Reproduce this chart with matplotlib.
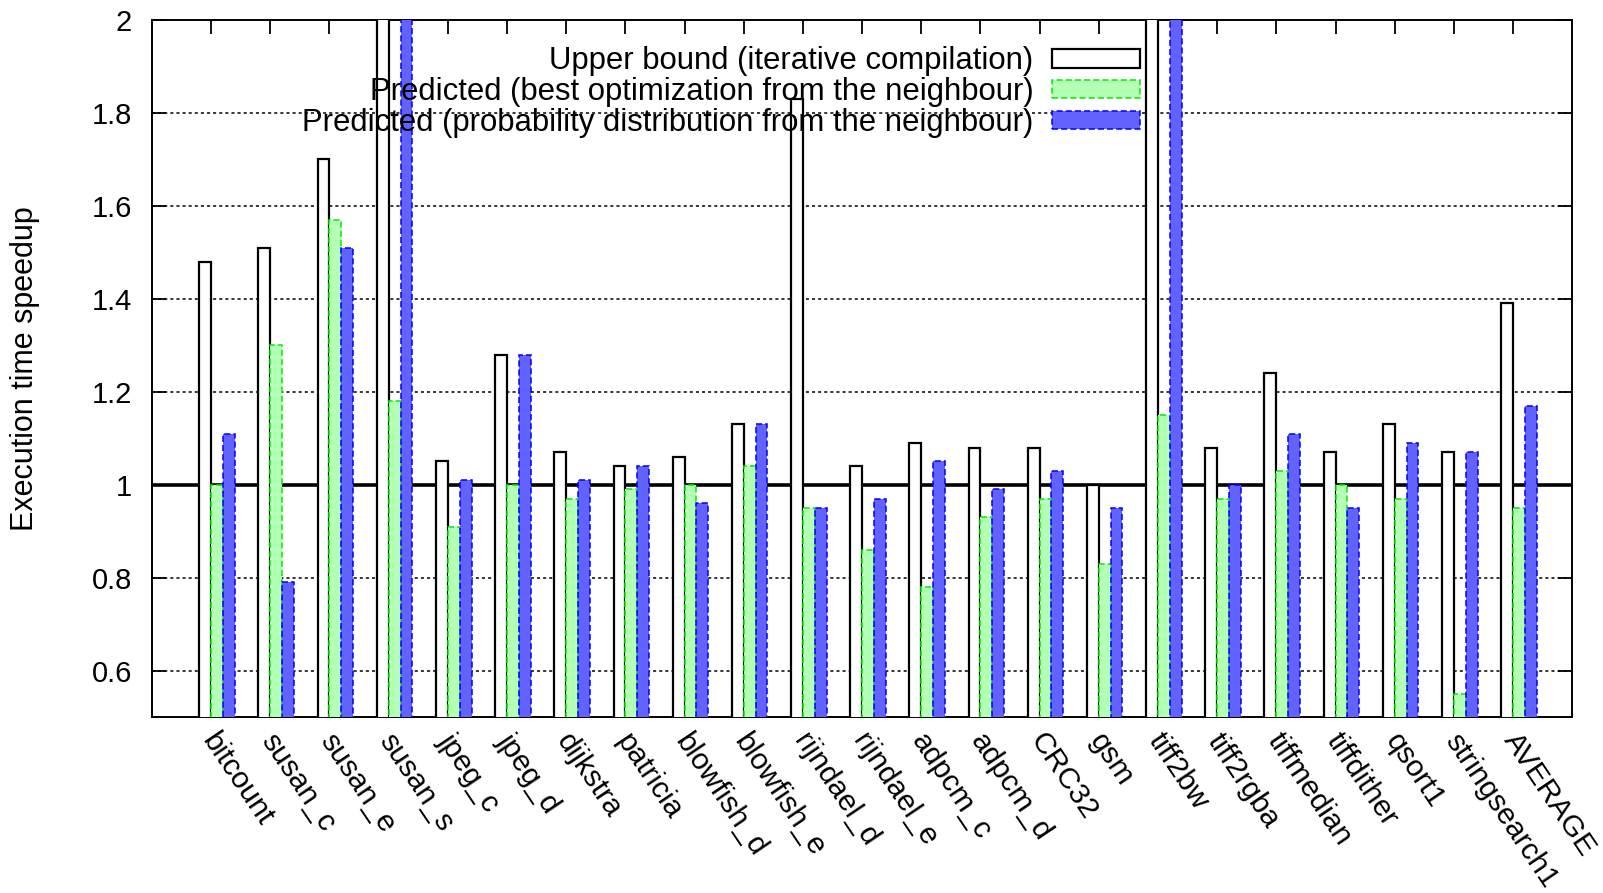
import numpy as np
import matplotlib
matplotlib.use("Agg")
import matplotlib.pyplot as plt
import matplotlib.transforms as mtransforms

plt.rcParams["font.family"] = ["Liberation Sans", "DejaVu Sans"]

benchmarks = ["bitcount", "susan_c", "susan_e", "susan_s", "jpeg_c", "jpeg_d",
              "dijkstra", "patricia", "blowfish_d", "blowfish_e", "rijndael_d",
              "rijndael_e", "adpcm_c", "adpcm_d", "CRC32", "gsm", "tiff2bw",
              "tiff2rgba", "tiffmedian", "tiffdither", "qsort1", "stringsearch1",
              "AVERAGE"]
upper_bound = [1.48, 1.51, 1.70, 2.40, 1.05, 1.28, 1.07, 1.04, 1.06, 1.13, 1.83,
               1.04, 1.09, 1.08, 1.08, 1.00, 2.60, 1.08, 1.24, 1.07, 1.13, 1.07, 1.39]
pred_best = [1.00, 1.30, 1.57, 1.18, 0.91, 1.00, 0.97, 0.99, 1.00, 1.04, 0.95,
             0.86, 0.78, 0.93, 0.97, 0.83, 1.15, 0.97, 1.03, 1.00, 0.97, 0.55, 0.95]
pred_prob = [1.11, 0.79, 1.51, 2.40, 1.01, 1.28, 1.01, 1.04, 0.96, 1.13, 0.95,
             0.97, 1.05, 0.99, 1.03, 0.95, 2.60, 1.00, 1.11, 0.95, 1.09, 1.07, 1.17]

labels = ["Upper bound (iterative compilation)",
          "Predicted (best optimization from the neighbour)",
          "Predicted (probability distribution from the neighbour)"]

fig = plt.figure(figsize=(16.03, 8.93), dpi=100)
ax = fig.add_axes([0.0948, 0.197, 0.886, 0.7806])

x = np.arange(len(benchmarks))
w = 0.2

ax.bar(x - w / 2, upper_bound, w, color="white", edgecolor="black",
       linewidth=1.6, label=labels[0], zorder=3)
ax.bar(x + w / 2, pred_best, w, color="#b3ffb3", edgecolor="#00ee00",
       linewidth=1.1, linestyle=(0, (4, 2)), label=labels[1], zorder=3)
ax.bar(x + 3 * w / 2, pred_prob, w, color="#6262ff", edgecolor="#0000ff",
       linewidth=1.1, linestyle=(0, (4, 2)), label=labels[2], zorder=3)

ax.set_xlim(-1, len(benchmarks))
ax.set_ylim(0.5, 2.0)

yt = [0.6, 0.8, 1.0, 1.2, 1.4, 1.6, 1.8, 2.0]
ax.set_yticks(yt)
ax.set_yticklabels(["0.6", "0.8", "1", "1.2", "1.4", "1.6", "1.8", "2"], fontsize=21)
for v in yt:
    if v == 1.0:
        ax.axhline(v, color="black", linewidth=2.6, zorder=2)
    elif v < 2.0:
        ax.axhline(v, color="black", linewidth=1.1, linestyle=(0, (2, 2)), zorder=1)

ax.set_xticks(x)
ax.set_xticklabels(benchmarks, fontsize=21.5, rotation=-56, ha="left", va="top",
                   rotation_mode="anchor")
ax.tick_params(axis="both", direction="in", length=10, width=1.3,
               top=True, right=True)
ax.tick_params(axis="y", pad=14.5)
ax.tick_params(axis="x", pad=8)
shift = mtransforms.ScaledTranslation(0.08, 0, fig.dpi_scale_trans)
for lab in ax.get_xticklabels():
    lab.set_transform(lab.get_transform() + shift)
for s in ax.spines.values():
    s.set_linewidth(1.4)

ax.set_ylabel("Execution time speedup", fontsize=22)
ax.yaxis.set_label_coords(-0.079, 0.5)

ax.legend(loc="upper right", bbox_to_anchor=(0.696, 0.962), frameon=False,
          markerfirst=False, fontsize=22.4, handlelength=2.85, handleheight=0.52,
          labelspacing=0.03, handletextpad=0.6, borderaxespad=0, borderpad=0)

fig.savefig("out.png", dpi=100)
